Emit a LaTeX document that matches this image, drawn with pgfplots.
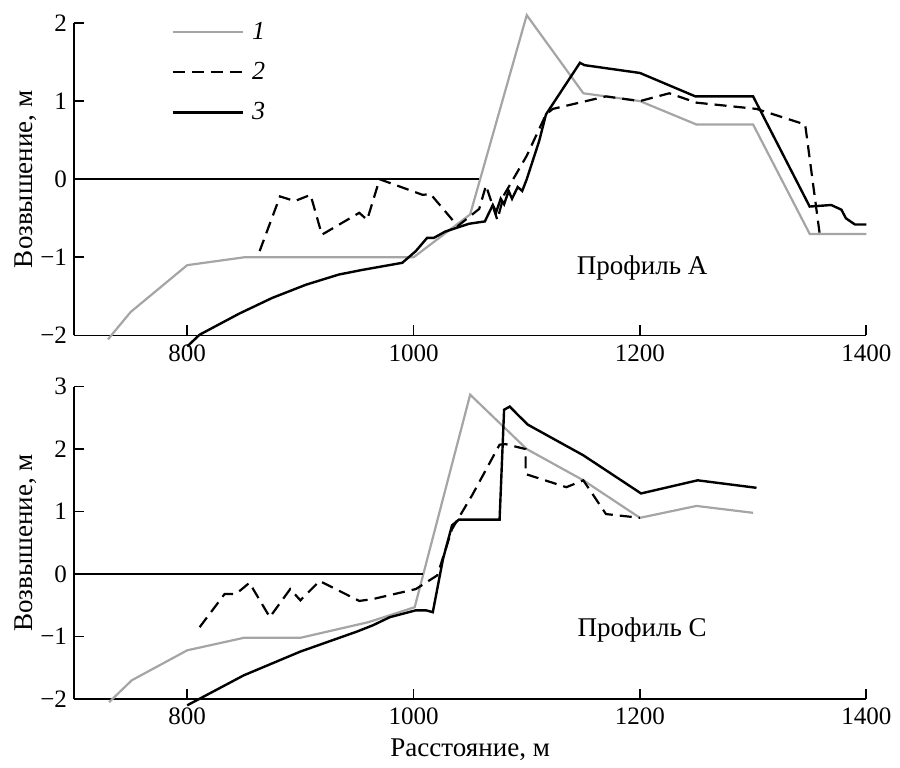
\documentclass[border={4pt 0pt 1pt 4pt}]{standalone}
\usepackage{fontspec}
\setmainfont{Liberation Serif}
\usepackage{pgfplots}
\pgfplotsset{compat=1.18}
\definecolor{lgray}{RGB}{165,165,165}
\pgfplotsset{
  prof/.style={
    width=395.5pt, height=156pt, scale only axis,
    xmin=700, xmax=1400,
    axis x line*=bottom, axis y line*=left,
    axis line style={line width=0.9pt},
    tick align=inside, major tick length=5pt,
    tick style={line width=0.9pt, black},
    xtick={800,1000,1200,1400},
    clip=false,
    /pgf/number format/assume math mode=true,
    /pgf/number format/1000 sep={},
    tick label style={font=\fontsize{12.5}{14}\selectfont},
    xticklabel style={yshift=-1pt},
    label style={font=\fontsize{13.5}{15}\selectfont},
    ylabel={Возвышение, м},
    ylabel shift=-5pt,
  },
  s1/.style={color=lgray, line width=1.1pt},
  s2/.style={black, line width=1.1pt, dash pattern=on 6pt off 3.5pt},
  s3/.style={black, line width=1.2pt},
}
\begin{document}
\begin{tikzpicture}[font=\fontsize{13.5}{15}\selectfont]
\begin{axis}[prof, at={(0,181.5pt)}, anchor=south west,
  ymin=-2, ymax=2, ytick={-2,-1,0,1,2}, yticklabels={−2,−1,0,1,2},
  legend style={draw=none, fill=none, at={(0.115,1.03)}, anchor=north west, font=\itshape\fontsize{13}{15}\selectfont, row sep=6pt},
  legend cell align=left,
  legend image code/.code={\draw[#1] (0pt,0pt) -- (35pt,0pt); \path (37pt,0pt);},
]
\addplot[s1] coordinates {(730,-2.05)(750,-1.7)(800,-1.1)(850,-1.0)(1000,-1.0)(1050,-0.45)(1100,2.1)(1150,1.1)(1200,1.0)(1250,0.7)(1300,0.7)(1350,-0.7)(1400,-0.7)};
\addlegendentry{1}
\addplot[s2] coordinates {(864,-0.92)(882,-0.22)(895,-0.28)(909,-0.2)(919,-0.71)(952,-0.43)(959,-0.52)(970,0)(1008,-0.2)(1015,-0.19)(1039,-0.6)(1058,-0.38)(1064,-0.08)(1074,-0.52)(1080,-0.2)(1090,0.05)(1100,0.3)(1117,0.83)(1123,0.9)(1170,1.06)(1200,1.0)(1226,1.1)(1250,0.98)(1303,0.9)(1346,0.7)(1359,-0.72)};
\addlegendentry{2}
\addplot[s3] coordinates {(800,-2.14)(811,-1.99)(846,-1.72)(875,-1.52)(905,-1.35)(934,-1.22)(955,-1.16)(990,-1.07)(1002,-0.92)(1012,-0.75)(1018,-0.75)(1028,-0.67)(1049,-0.57)(1063,-0.54)(1066,-0.45)(1070,-0.33)(1073,-0.42)(1077,-0.25)(1080,-0.32)(1084,-0.15)(1087,-0.25)(1092,-0.1)(1096,-0.15)(1100,0)(1111,0.49)(1117,0.83)(1147,1.49)(1151,1.46)(1200,1.36)(1249,1.06)(1300,1.06)(1350,-0.35)(1369,-0.33)(1378,-0.39)(1382,-0.5)(1390,-0.58)(1400,-0.58)};
\addlegendentry{3}
\addplot[black, line width=0.9pt, forget plot] coordinates {(700,0)(1058,0)};
\node at (axis cs:1202,-1.14) {Профиль А};
\end{axis}
\begin{axis}[prof, at={(0,0)}, anchor=south west,
  ymin=-2, ymax=3, ytick={-2,-1,0,1,2,3}, yticklabels={−2,−1,0,1,2,3},
  xlabel={Расстояние, м},
]
\addplot[s1] coordinates {(731,-2.05)(751,-1.7)(800,-1.22)(850,-1.02)(900,-1.02)(960,-0.77)(1001,-0.53)(1050,2.87)(1100,2.0)(1150,1.5)(1200,0.9)(1250,1.09)(1300,0.98)};
\addplot[s2] coordinates {(811,-0.85)(833,-0.32)(843,-0.32)(855,-0.14)(873,-0.69)(891,-0.24)(900,-0.42)(917,-0.11)(952,-0.43)(964,-0.4)(1002,-0.24)(1021,-0.02)(1034,0.72)(1052,1.27)(1076,2.07)(1081,2.08)(1099,2.0)(1099,1.6)(1135,1.39)(1150,1.5)(1170,0.96)(1200,0.9)};
\addplot[s3] coordinates {(800,-2.1)(850,-1.62)(900,-1.24)(950,-0.92)(964,-0.82)(979,-0.69)(1002,-0.58)(1011,-0.58)(1017,-0.61)(1026,0.24)(1034,0.78)(1040,0.87)(1076,0.87)(1080,2.63)(1085,2.68)(1092,2.55)(1101,2.39)(1150,1.9)(1201,1.29)(1251,1.5)(1303,1.38)};
\addplot[black, line width=0.9pt, forget plot] coordinates {(700,0)(1008,0)};
\node at (axis cs:1202,-0.9) {Профиль С};
\end{axis}
\end{tikzpicture}
\end{document}
